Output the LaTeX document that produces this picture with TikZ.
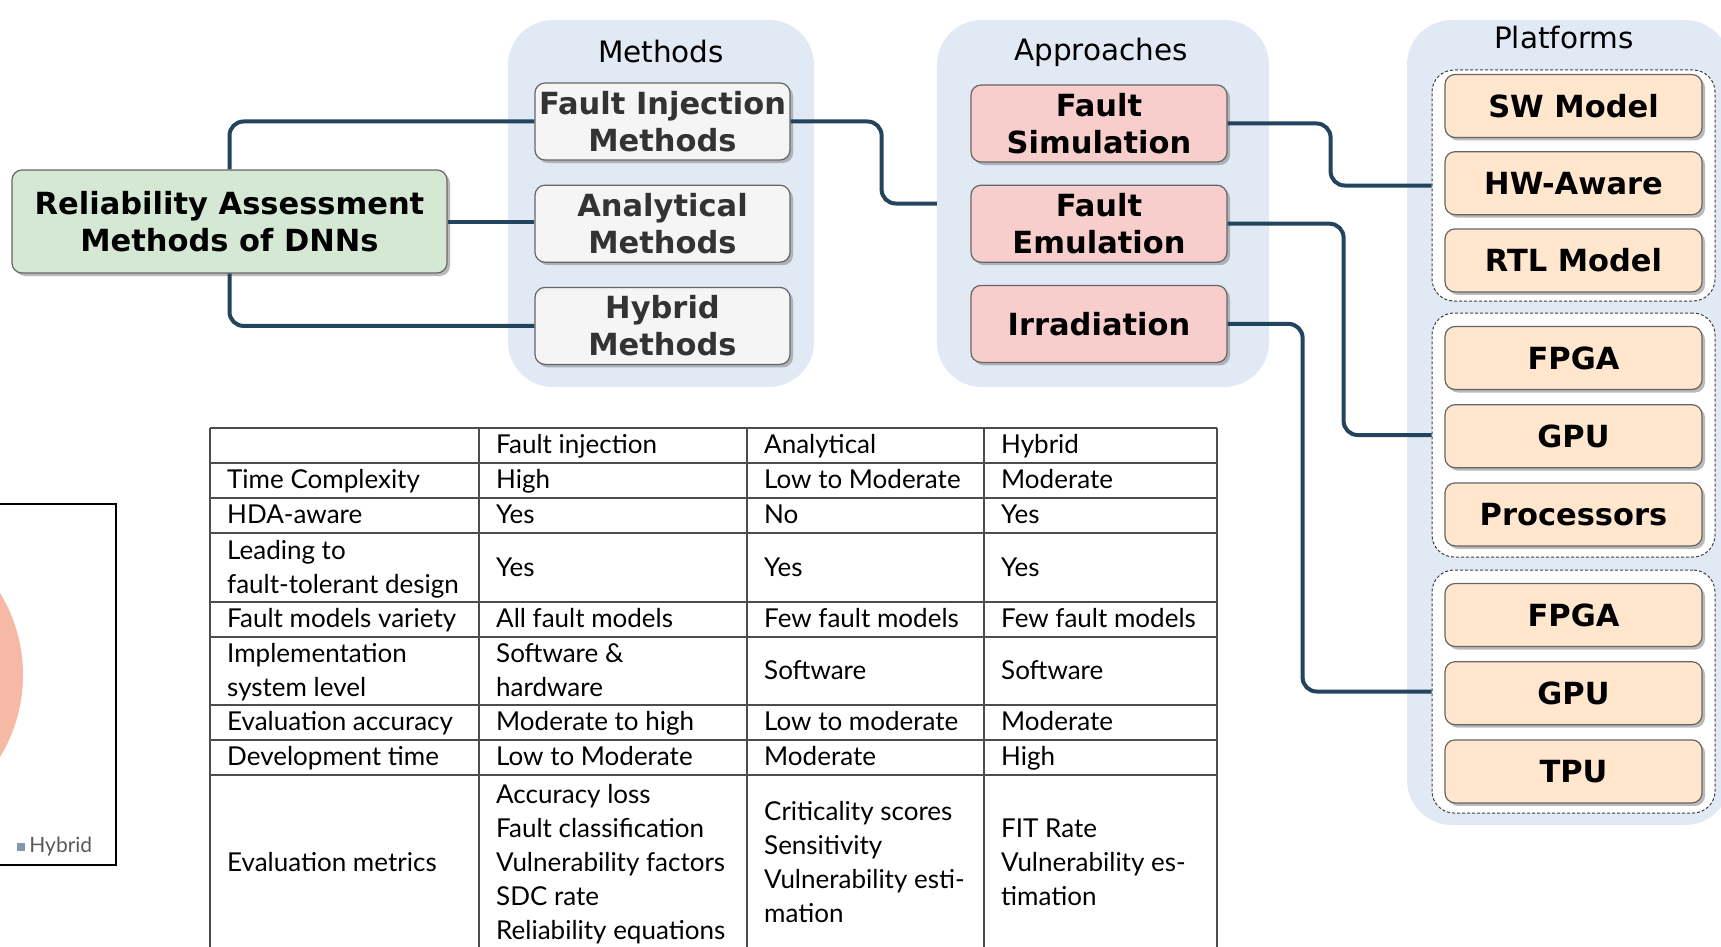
\documentclass[tikz,border=0pt]{standalone}
\usepackage{fontspec}
\setmainfont{Lato}
\newfontfamily\verd{DejaVu Sans}
\usetikzlibrary{positioning, shadows}

\definecolor{linkblue}{HTML}{23445D}
\definecolor{panelblue}{HTML}{E1E9F5}
\definecolor{greenbox}{HTML}{D5E8D4}
\definecolor{graybox}{HTML}{F5F5F5}
\definecolor{redbox}{HTML}{F8CECC}
\definecolor{orangebox}{HTML}{FFE6CC}
\definecolor{pieslice}{HTML}{F5B9A5}
\definecolor{legendgray}{HTML}{8497B0}

\newcommand{\cellstrut}{\rule[-6pt]{0pt}{25pt}}

\tikzset{
  box/.style={draw=black!60, line width=1.2pt, rounded corners=10pt,
    align=center, inner sep=0pt,
    font=\verd\bfseries\fontsize{30.5}{37}\selectfont,
    drop shadow={shadow xshift=3pt, shadow yshift=-3pt, fill=black!45, opacity=0.6}},
  methodbox/.style={box, fill=graybox, text=black!80,
    minimum width=255pt, minimum height=77pt},
  approachbox/.style={box, fill=redbox,
    minimum width=256pt, minimum height=77pt},
  platformbox/.style={box, fill=orangebox,
    minimum width=257pt, minimum height=63pt},
  panel/.style={fill=panelblue, rounded corners=45pt},
  group/.style={draw=black!75, fill=white, line width=1pt,
    dash pattern=on 3pt off 2pt, rounded corners=22pt,
    minimum width=283pt},
  title/.style={font=\verd\fontsize{29.5}{34}\selectfont},
  link/.style={draw=linkblue, line width=4pt, rounded corners=14pt},
  grid/.style={draw=black!70, line width=1.4pt},
  cell/.style={anchor=west, align=left, inner sep=0pt,
    font=\fontsize{26}{34}\selectfont}
}

\begin{document}
\begin{tikzpicture}[x=1pt,y=-1pt]
    \useasboundingbox (0,0) rectangle (1721,947);
    \clip (0,0) rectangle (1721,947);

    % panels and groups
    \node[panel, minimum width=306pt, minimum height=367pt] (mpanel) at (661,203.5) {};
    \node[panel, minimum width=332pt, minimum height=367pt] (apanel) at (1103,203.5) {};
    \node[panel, minimum width=323pt, minimum height=805pt] (ppanel) at (1568.5,422.5) {};
    \node[title] (mtitle) at (661,52) {Methods};
    \node[title] (atitle) at (1101,52) {Approaches};
    \node[title] (ptitle) at (1564,38) {Platforms};

    \node[group, minimum height=231pt] (g_1) at (1573.5,185.5) {};
    \node[group, minimum height=244pt] (g_2) at (1573.5,435) {};
    \node[group, minimum height=243pt] (g_3) at (1573.5,691.5) {};

    % boxes
    \node[box, fill=greenbox, minimum width=435pt, minimum height=103pt]
          (rel) at (229.5,221.5) {Reliability Assessment\\Methods of DNNs};

    \node[methodbox] (m_1) at (662.5,121.5)   {Fault Injection\\Methods};
    \node[methodbox] (m_2) [below=24pt of m_1] {Analytical\\Methods};
    \node[methodbox] (m_3) [below=24pt of m_2] {Hybrid\\Methods};

    \node[approachbox] (a_1) at (1099,123.5)      {Fault\\Simulation};
    \node[approachbox] (a_2) [below=22pt of a_1] {Fault\\Emulation};
    \node[approachbox] (a_3) [below=22pt of a_2] {Irradiation};

    \node[platformbox] (p_1) at (1573.5,106)       {SW Model};
    \node[platformbox] (p_2) [below=13pt of p_1]  {HW-Aware};
    \node[platformbox] (p_3) [below=13pt of p_2]  {RTL Model};
    \node[platformbox] (p_4) at (1573.5,358)       {FPGA};
    \node[platformbox] (p_5) [below=14pt of p_4]  {GPU};
    \node[platformbox] (p_6) [below=14pt of p_5]  {Processors};
    \node[platformbox] (p_7) at (1573.5,615)       {FPGA};
    \node[platformbox] (p_8) [below=14pt of p_7]  {GPU};
    \node[platformbox] (p_9) [below=14pt of p_8]  {TPU};

    % links
    \draw[link] (rel.north) |- (m_1.west);
    \draw[link] (rel.east) -- (rel.east -| m_2.west);
    \draw[link] (rel.south) |- (m_3.west);
    \draw[link] (m_1.east) -- ++(91,0) |- (apanel.west);
    \draw[link] (a_1.east) -- ++(103,0) |- (g_1.west);
    \draw[link] (a_2.east) -- ++(116,0) |- (g_2.west);
    \draw[link] (a_3.east) -- ++(75,0) |- (g_3.west);

    % comparison table
    \foreach \x in {210,479,747,984,1217}
        \draw[grid] (\x,428) -- (\x,947);
    \foreach \y in {428,463,498,533,602,637,705,740,775}
        \draw[grid] (210,\y) -- (1217,\y);

    \foreach \y/\a/\b/\c/\d [count=\i] in {
        447/{}/{Fault injection}/{Analytical}/{Hybrid},
        482/{Time Complexity}/{High}/{Low to Moderate}/{Moderate},
        517/{HDA-aware}/{Yes}/{No}/{Yes},
        569.5/{Leading to\\fault-tolerant design}/{Yes}/{Yes}/{Yes},
        621/{Fault models variety}/{All fault models}/{Few fault models}/{Few fault models},
        673/{Implementation\\system level}/{Software \&\\hardware}/{Software}/{Software},
        724/{Evaluation accuracy}/{Moderate to high}/{Low to moderate}/{Moderate},
        759/{Development time}/{Low to Moderate}/{Moderate}/{High},
        865/{Evaluation metrics}/{Accuracy loss\\Fault classification\\Vulnerability factors\\SDC rate\\Reliability equations}/{Criticality scores\\Sensitivity\\Vulnerability esti-\\mation}/{FIT Rate\\Vulnerability es-\\timation}}
    {
        \node[cell] (t\i-1) at (227,\y)  {\cellstrut\a\cellstrut};
        \node[cell] (t\i-2) at (496,\y)  {\cellstrut\b\cellstrut};
        \node[cell] (t\i-3) at (764,\y)  {\cellstrut\c\cellstrut};
        \node[cell] (t\i-4) at (1001,\y) {\cellstrut\d\cellstrut};
    }

    % chart fragment on the left
    \begin{scope}
        \clip (0,504) rectangle (116,865);
        \fill[pieslice] (-134.7,675) circle (157.7);
    \end{scope}
    \draw[black, line width=2pt] (0,504) -- (116,504) -- (116,865) -- (0,865);
    \node[fill=legendgray, minimum size=8pt, inner sep=0pt] (lg) at (21,846.5) {};
    \node[right=4pt of lg, inner sep=0pt, text=black!65,
          font=\fontsize{21}{24}\selectfont] (lgt) {Hybrid};
\end{tikzpicture}
\end{document}
